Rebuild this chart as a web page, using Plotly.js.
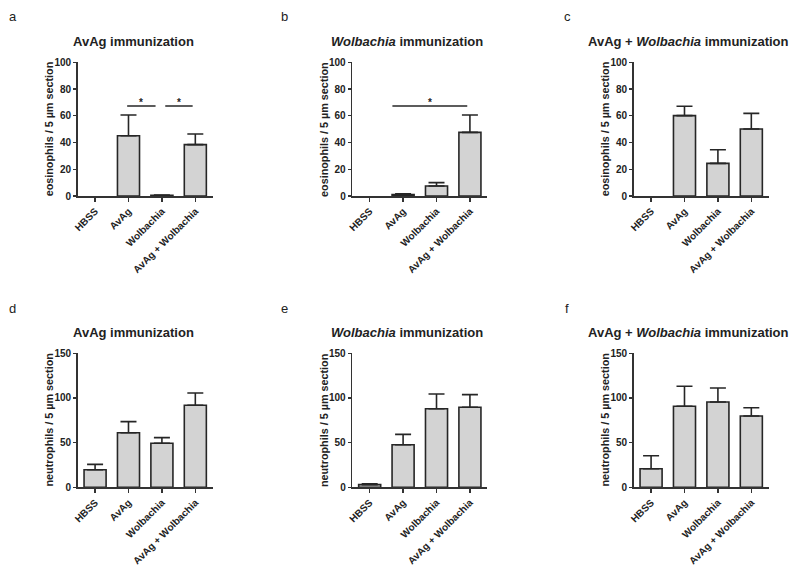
<!DOCTYPE html>
<html>
<head>
<meta charset="utf-8">
<script src="https://cdn.plot.ly/plotly-3.0.1.min.js"></script>
<style>html,body{margin:0;padding:0;background:#fff;}#chart{width:800px;height:568px;}</style>
</head>
<body>
<div id="chart"></div>
<script>
// ---- data ----
const categories = ["HBSS", "AvAg", "Wolbachia", "AvAg + Wolbachia"];

const eosAvAg = [0, 45.1, 0.5, 38.4];
const eosAvAgErr = [0, 15.5, 0.3, 8.0];
const eosWol = [0, 1.0, 7.5, 47.6];
const eosWolErr = [0, 0.7, 2.5, 13.0];
const eosBoth = [0, 60.1, 24.4, 50.1];
const eosBothErr = [0, 7.0, 10.2, 11.7];

const neuAvAg = [19.7, 61.1, 49.3, 91.8];
const neuAvAgErr = [6.0, 12.4, 6.3, 13.8];
const neuWol = [3.0, 47.7, 88.0, 89.6];
const neuWolErr = [0.8, 11.6, 16.5, 14.1];
const neuBoth = [20.8, 90.7, 95.5, 79.8];
const neuBothErr = [14.6, 22.4, 15.7, 9.3];

const panelLetters = ["a", "b", "c", "d", "e", "f"];
const panelTitles = ["AvAg immunization", "<i>Wolbachia</i> immunization", "AvAg + <i>Wolbachia</i> immunization",
                     "AvAg immunization", "<i>Wolbachia</i> immunization", "AvAg + <i>Wolbachia</i> immunization"];
const yTitles = ["eosinophils / 5 µm section", "neutrophils / 5 µm section"];
const eosTicks = [0, 20, 40, 60, 80, 100];
const neuTicks = [0, 50, 100, 150];

// significance bars: [panel, from, to, level]
const sigBars = [[0, 0.96, 1.81, 67.3], [0, 2.1, 2.92, 67.3], [1, 0.68, 2.92, 67.3]];

// ---- layout helpers ----
const W = 800, H = 568;
const px = v => v / W;
const py = v => 1 - v / H;
const axLeft = [77.7, 352.3, 633.7];
const plotW = 135;
const rowTop = [62.3, 353.3];
const rowBot = [196, 487.3];
const titleX = [133, 407, 688.4];
const titleY = [41.5, 332.5];
const letterX = [12.8, 284.7, 567];
const letterY = [16.5, 308.5];

const font = {family: "Liberation Sans, Arial, sans-serif", color: "#222"};
const seriesVals = [eosAvAg, eosWol, eosBoth, neuAvAg, neuWol, neuBoth];
const seriesErr = [eosAvAgErr, eosWolErr, eosBothErr, neuAvAgErr, neuWolErr, neuBothErr];

const traces = [];
const layout = {
  width: W, height: H,
  margin: {l: 0, r: 0, t: 0, b: 0},
  paper_bgcolor: "#fff", plot_bgcolor: "rgba(0,0,0,0)",
  showlegend: false,
  font: font,
  annotations: [], shapes: []
};

for (let i = 0; i < 6; i++) {
  const col = i % 3, row = Math.floor(i / 3);
  const sfx = i === 0 ? "" : String(i + 1);
  const vals = seriesVals[i], errs = seriesErr[i];
  traces.push({
    type: "bar",
    x: categories,
    y: vals.map(v => (v === 0 ? null : v)),
    xaxis: "x" + sfx, yaxis: "y" + sfx,
    width: 0.66,
    marker: {color: "#d3d3d3", line: {color: "#262626", width: 1.6}},
    error_y: {type: "data", symmetric: false,
              array: errs.map((e, k) => (vals[k] === 0 ? null : e)),
              arrayminus: errs.map(() => 0),
              color: "#262626", thickness: 1.6, width: 8},
    hoverinfo: "skip"
  });
  const ticks = row === 0 ? eosTicks : neuTicks;
  layout["xaxis" + sfx] = {
    domain: [px(axLeft[col]), px(axLeft[col] + plotW)],
    anchor: "y" + sfx,
    type: "category", categoryorder: "array", categoryarray: categories,
    range: [-0.52, 3.52],
    showline: true, linecolor: "#333", linewidth: 1.6,
    ticks: "outside", ticklen: 4, tickwidth: 1.4, tickcolor: "#333",
    tickangle: -45,
    tickfont: {family: font.family, size: 10, color: "#222", weight: "bold"},
    showgrid: false, zeroline: false, fixedrange: true
  };
  layout["yaxis" + sfx] = {
    domain: [py(rowBot[row]), py(rowTop[row])],
    anchor: "x" + sfx,
    range: [0, ticks[ticks.length - 1]],
    tickvals: ticks,
    showline: true, linecolor: "#333", linewidth: 1.6,
    ticks: "outside", ticklen: 3, tickwidth: 1.4, tickcolor: "#333",
    tickfont: {family: font.family, size: 10, color: "#222", weight: "bold"},
    showgrid: false, zeroline: false, fixedrange: true
  };
  layout.annotations.push({
    xref: "paper", yref: "paper", x: px(letterX[col]), y: py(letterY[row]),
    xanchor: "center", yanchor: "middle", showarrow: false,
    text: panelLetters[i], font: {family: font.family, size: 13, color: "#222"}
  });
  layout.annotations.push({
    xref: "paper", yref: "paper", x: px(titleX[col]), y: py(titleY[row]),
    xanchor: "center", yanchor: "middle", showarrow: false,
    text: panelTitles[i], font: {family: font.family, size: 13, color: "#222", weight: "bold"}
  });
  layout.annotations.push({
    xref: "paper", yref: "paper", x: px(axLeft[col] - 28.5), y: py((rowTop[row] + rowBot[row]) / 2),
    xanchor: "center", yanchor: "middle", showarrow: false, textangle: -90,
    text: yTitles[row], font: {family: font.family, size: 10.8, color: "#222", weight: "bold"}
  });
}

sigBars.forEach(s => {
  const sfx = s[0] === 0 ? "" : String(s[0] + 1);
  layout.shapes.push({
    type: "line", xref: "x" + sfx, yref: "y" + sfx,
    x0: s[1], x1: s[2], y0: s[3], y1: s[3],
    line: {color: "#262626", width: 1.4}
  });
  layout.annotations.push({
    xref: "x" + sfx, yref: "y" + sfx, x: (s[1] + s[2]) / 2, y: s[3],
    xanchor: "center", yanchor: "middle", yshift: 4, showarrow: false,
    text: "*", font: {family: font.family, size: 10, color: "#222", weight: "bold"}
  });
});

Plotly.newPlot("chart", traces, layout, {staticPlot: true, displayModeBar: false});
</script>
</body>
</html>
